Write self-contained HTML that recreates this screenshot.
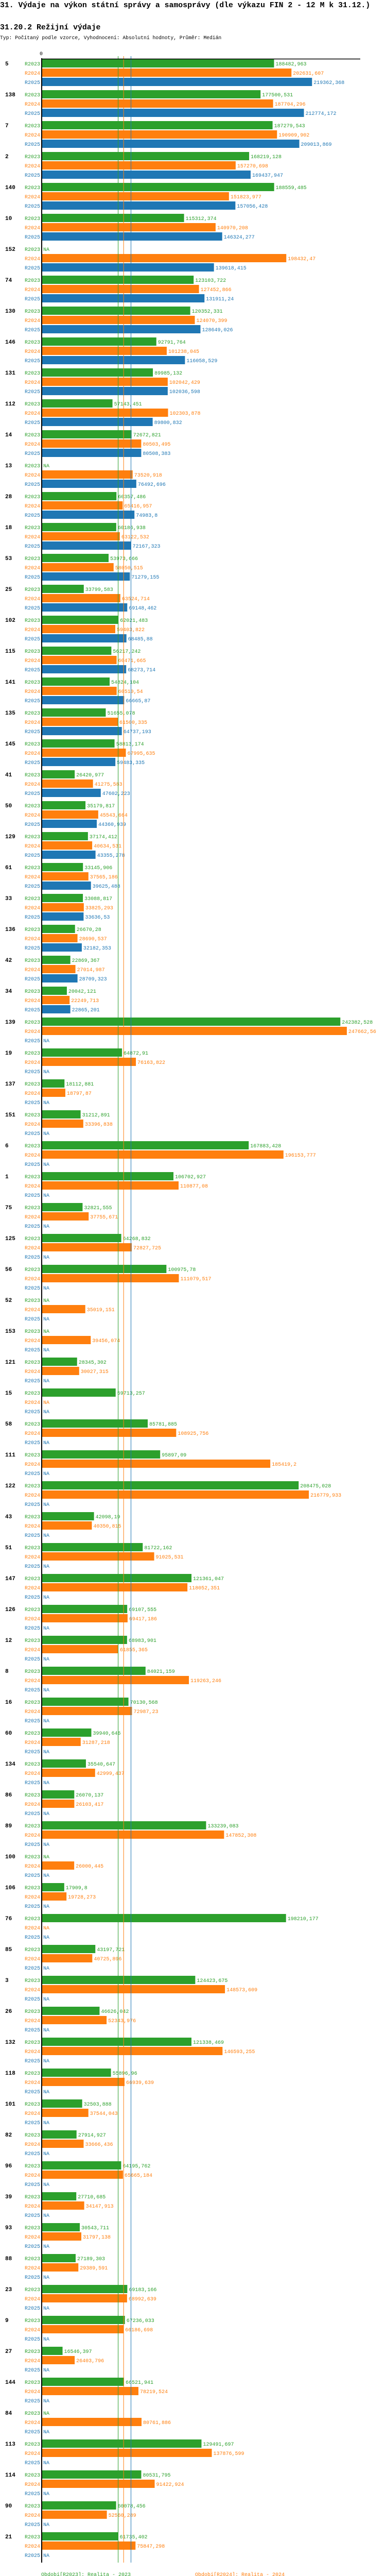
<!DOCTYPE html>
<html><head><meta charset="utf-8">
<style>
html,body{margin:0;padding:0;background:#fff;width:750px;height:5094px;overflow:hidden;}
svg{display:block;font-family:"Liberation Mono","DejaVu Sans Mono",monospace;}
</style></head>
<body>
<svg id="chart" width="750" height="5094" viewBox="0 0 750 5094" xmlns="http://www.w3.org/2000/svg">
<text x="0" y="14" font-size="14.8" font-weight="bold" fill="#000">31. Výdaje na výkon státní správy a samosprávy (dle výkazu FIN 2 - 12 M k 31.12.)</text>
<text x="0" y="57" font-size="14.8" font-weight="bold" fill="#000">31.20.2 Režijní výdaje</text>
<text x="0" y="76" font-size="9.7" fill="#000">Typ: Počítaný podle vzorce, Vyhodnocení: Absolutní hodnoty, Průměr: Medián</text>
<g id="plot"></g>
<g id="legend"></g>
</svg>
<script>
const categories=["5","138","7","2","140","10","152","74","130","146","131","112","14","13","28","18","53","25","102","115","141","135","145","41","50","129","61","33","136","42","34","139","19","137","151","6","1","75","125","56","52","153","121","15","58","111","122","43","51","147","126","12","8","16","60","134","86","89","100","106","76","85","3","26","132","118","101","82","96","39","93","88","23","9","27","144","84","113","114","90","21"];
const r2023=[188482.963,177500.531,187279.543,168219.128,188559.485,115312.374,null,123103.722,120352.331,92791.764,89985.132,57143.451,72672.821,null,60357.486,60186.938,53973.666,33799.583,62021.483,56217.242,54824.104,51655.078,58813.174,26420.977,35179.817,37174.412,33145.906,33088.817,26670.28,22869.367,20042.121,242382.528,64872.91,18112.881,31212.891,167883.428,106702.927,32821.555,64268.832,100975.78,null,null,28345.302,59713.257,85781.885,95897.09,208475.028,42098.19,81722.162,121361.047,69107.555,68983.901,84021.159,70130.568,39940.646,35540.647,26070.137,133239.083,null,17909.8,198210.177,43197.721,124423.675,46626.042,121338.469,55896.96,32503.888,27914.927,64195.762,27710.685,30543.711,27189.303,69183.166,67236.033,16546.397,66521.941,null,129491.697,80531.795,60078.456,61735.402];
const r2024=[202631.607,187704.296,190909.902,157270.698,151823.977,140970.208,198432.47,127452.866,124070.399,101238.045,102042.429,102303.878,80503.495,73520.918,65416.957,63122.532,58050.515,63524.714,59403.822,60471.665,60510.54,61500.335,67995.635,41275.583,45543.664,40634.531,37565.186,33825.293,28690.537,27014.987,22249.713,247662.56,76163.822,18797.87,33396.838,196153.777,110877.08,37755.671,72827.725,111079.517,35019.151,39456.074,30027.315,null,108925.756,185419.2,216779.933,40350.815,91025.531,118052.351,69417.186,61855.365,119263.246,72987.23,31287.218,42999.437,26103.417,147852.308,26000.445,19728.273,null,40725.896,148573.609,52343.976,146593.255,66939.639,37544.043,33666.436,65665.184,34147.913,31797.138,29389.591,68992.639,66186.698,26403.796,78219.524,80761.886,137876.599,91422.924,52560.289,75847.298];
const r2025=[219362.368,212774.172,209013.869,169437.947,157056.428,146324.277,139618.415,131911.24,128649.026,116058.529,102036.598,89800.832,80508.383,76492.696,74983.8,72167.323,71279.155,69148.462,68485.88,68273.714,66665.87,64737.193,59483.335,47602.223,44360.939,43355.278,39625.488,33636.53,32182.353,28709.323,22865.201];
const seriesNames=["R2023","R2024","R2025"];
const medians=[61735.402,66186.698,72167.323];
const mins=["16546,397","18797,87","22865,201"];
const maxs=["242382,528","247662,56","219362,368"];
const periodLabels=["Období[R2023]: Realita - 2023","Období[R2024]: Realita - 2024","Období[R2025]: Realita - 2025"];

const colors=["#2ca02c","#ff7f0e","#1f77b4"];
const NS="http://www.w3.org/2000/svg";
const X0=82, SCALE=0.00239, TOP=115, GROUP=60, ROW=18, BARH=16;
const xs=v=>X0+v*SCALE;
const gy=i=>TOP+i*GROUP;
const endY=TOP+categories.length*GROUP-1;
const plot=document.getElementById('plot');
function mk(tag,attrs,parent){const e=document.createElementNS(NS,tag);for(const k in attrs)e.setAttribute(k,attrs[k]);(parent||plot).appendChild(e);return e;}
const fmt=v=>String(v).replace('.',',');
const series=[r2023,r2024,r2025];

categories.forEach((c,i)=>{
  const g=mk('g',{});
  
  
  const t=mk('text',{x:10,y:gy(i)+12,'font-size':11,'font-weight':'bold',fill:'#000'},g);
  
  
  t.textContent=c;
  series.forEach((arr,s)=>{
    const y=gy(i)+s*ROW;
    const lbl=mk('text',{x:78,y:y+12,'font-size':10,fill:colors[s],'text-anchor':'end'},g);
    
    
    lbl.textContent=seriesNames[s];
    const v=arr[i];
    if(v==null){
      const na=mk('text',{x:84,y:y+12,'font-size':10,fill:colors[s]},g);
      
      
      na.textContent='NA';
    }else{
      const r=mk('rect',{x:X0,y:y,width:xs(v)-X0,height:BARH,fill:colors[s]},g);
      
      
      const vt=mk('text',{x:xs(v)+3,y:y+12,'font-size':10,fill:colors[s]},g);
      
      
      vt.textContent=fmt(v);
    }
  });
});
medians.forEach((m,s)=>{
  const l=mk('line',{x1:xs(m),x2:xs(m),y1:109,y2:endY,stroke:colors[s],'stroke-width':1});
  
  
});
const ax=mk('line',{x1:81,x2:81,y1:113,y2:endY,stroke:'#000','stroke-width':2});


const hx=mk('line',{x1:80,x2:700,y1:114.5,y2:114.5,stroke:'#000','stroke-width':1.5});


const z=mk('text',{x:80,y:107,'font-size':10,fill:'#000','text-anchor':'middle'});


z.textContent='0';

const lg=document.getElementById('legend');
const lpos=[[80,5000],[379,5000],[80,5020]];
periodLabels.forEach((p,s)=>{
  const t=mk('text',{x:lpos[s][0],y:lpos[s][1],'font-size':10,fill:colors[s]},lg);
  
  
  t.textContent=p;
});
medians.forEach((m,s)=>{
  const y=5040+s*20;
  const a=mk('text',{x:80,y:y,'font-size':10,fill:colors[s]},lg);
  
  
  a.textContent='Medián: '+fmt(m);
  const b=mk('text',{x:330,y:y,'font-size':10,fill:colors[s]},lg);
  
  
  b.textContent='Min: '+mins[s];
  const c=mk('text',{x:530,y:y,'font-size':10,fill:colors[s]},lg);
  
  
  c.textContent='Max: '+maxs[s];
});
</script>
</body></html>
